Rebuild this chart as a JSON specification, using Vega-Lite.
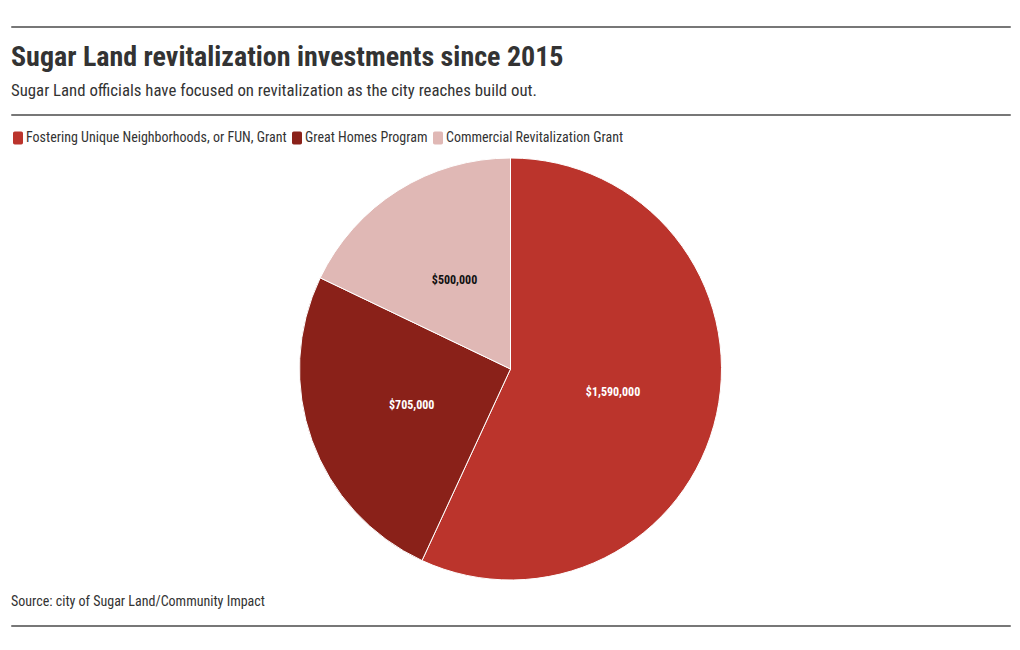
{
  "$schema": "https://vega.github.io/schema/vega-lite/v6.json",
  "padding": {"top": 25, "left": 10, "right": 11, "bottom": 5},
  "background": "white",
  "config": {
    "font": "Roboto Condensed, Liberation Sans Narrow, DejaVu Sans Condensed, Roboto",
    "view": {"stroke": "#777777", "strokeWidth": 1},
    "concat": {"spacing": 15}
  },
  "datasets": {
    "investments": [
      {"program": "Fostering Unique Neighborhoods, or FUN, Grant", "amount": 1590000},
      {"program": "Great Homes Program", "amount": 705000},
      {"program": "Commercial Revitalization Grant", "amount": 500000}
    ],
    "empty": []
  },
  "vconcat": [
    {
      "width": 999,
      "height": 1,
      "view": {"stroke": "#777777", "strokeWidth": 1},
      "data": {"name": "empty"},
      "mark": "point",
      "encoding": {"x": {"field": "v", "type": "quantitative", "axis": null}}
    },
    {
      "width": 999,
      "height": 1,
      "view": {"stroke": "#777777", "strokeWidth": 1},
      "title": {
        "text": "Sugar Land revitalization investments since 2015",
        "subtitle": "Sugar Land officials have focused on revitalization as the city reaches build out.",
        "anchor": "start",
        "frame": "group",
        "fontSize": 28,
        "fontWeight": "bold",
        "color": "#333333",
        "subtitleFontSize": 16.8,
        "subtitleColor": "#333333",
        "subtitlePadding": 11,
        "offset": 14
      },
      "data": {"name": "empty"},
      "mark": "point",
      "encoding": {"x": {"field": "v", "type": "quantitative", "axis": null}}
    },
    {
      "width": 999,
      "height": 422,
      "view": {"stroke": null},
      "title": {
        "text": "Source: city of Sugar Land/Community Impact",
        "orient": "bottom",
        "anchor": "start",
        "frame": "group",
        "fontSize": 14,
        "fontWeight": "normal",
        "color": "#333333",
        "offset": 13
      },
      "data": {"name": "investments"},
      "encoding": {
        "theta": {"field": "amount", "type": "quantitative", "stack": true},
        "order": {"field": "amount", "type": "quantitative", "sort": "descending"}
      },
      "layer": [
        {
          "mark": {"type": "arc", "stroke": "white", "strokeWidth": 1},
          "encoding": {
            "color": {
              "field": "program",
              "type": "nominal",
              "scale": {
                "domain": ["Fostering Unique Neighborhoods, or FUN, Grant", "Great Homes Program", "Commercial Revitalization Grant"],
                "range": ["#bb342c", "#8a2119", "#e0b8b5"]
              },
              "legend": {
                "orient": "top",
                "direction": "horizontal",
                "title": null,
                "labelFontSize": 14,
                "labelColor": "#333333",
                "labelLimit": 0,
                "symbolType": "M-0.65,-1.3 L0.65,-1.3 Q1,-1.3 1,-0.95 L1,0.95 Q1,1.3 0.65,1.3 L-0.65,1.3 Q-1,1.3 -1,0.95 L-1,-0.95 Q-1,-1.3 -0.65,-1.3 Z",
                "symbolSize": 100,
                "symbolStrokeWidth": 0,
                "symbolOpacity": 1,
                "columnPadding": 3,
                "labelOffset": 1,
                "offset": 13
              }
            }
          }
        },
        {
          "mark": {"type": "text", "radius": 105, "fontSize": 12, "fontWeight": "bold"},
          "encoding": {
            "text": {"field": "amount", "type": "quantitative", "format": "$,"},
            "color": {
              "condition": {"test": "datum.amount < 600000", "value": "#111111"},
              "value": "white"
            }
          }
        }
      ]
    },
    {
      "width": 999,
      "height": 1,
      "view": {"stroke": "#777777", "strokeWidth": 1},
      "data": {"name": "empty"},
      "mark": "point",
      "encoding": {"x": {"field": "v", "type": "quantitative", "axis": null}}
    }
  ],
  "resolve": {"legend": {"color": "independent"}}
}
